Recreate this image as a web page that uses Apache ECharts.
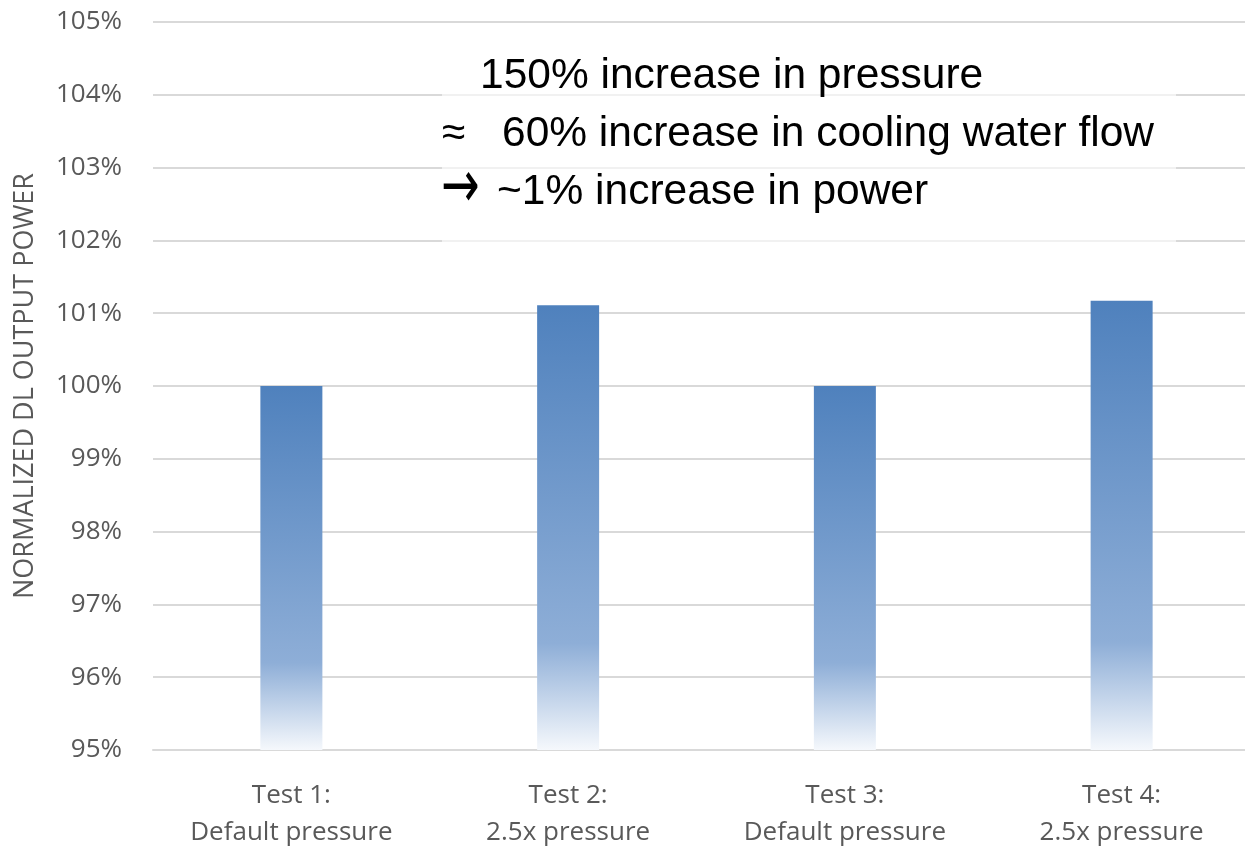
<!DOCTYPE html>
<html>
<head>
<meta charset="utf-8">
<script src="https://cdn.jsdelivr.net/npm/echarts@6/dist/echarts.min.js"></script>
<style>
  html, body { margin: 0; padding: 0; background: #ffffff; overflow: hidden; }
  #chart { width: 1245px; height: 848px; }
</style>
</head>
<body>
<div id="chart"></div>
<script>
// Test runs and their normalized diode-laser output power (percent)
const categories = ['Test 1:\nDefault pressure', 'Test 2:\n2.5x pressure', 'Test 3:\nDefault pressure', 'Test 4:\n2.5x pressure'];
const powerPct = [100, 101.11, 100, 101.17];
const yMin = 95, yMax = 105, yStep = 1;
const noteLines = [
  { mark: '', text: '150% increase in pressure' },
  { mark: '\u2248', text: '60% increase in cooling water flow' },
  { mark: '\u2192', text: '~1% increase in power' }
];

const axisFont = '"Open Sans", "Noto Sans", sans-serif';
const noteFont = '"Liberation Sans", Arial, sans-serif';

const chart = echarts.init(document.getElementById('chart'));

const barFill = new echarts.graphic.LinearGradient(0, 0, 0, 1, [
  { offset: 0, color: '#4f81bd' },
  { offset: 0.76, color: '#8eaed7' },
  { offset: 1, color: '#f5f8fc' }
]);

// Annotation block: translucent white panel plus three text lines
const noteGraphics = [
  {
    type: 'rect', left: 442, top: 40, z: 10,
    shape: { width: 734, height: 214 },
    style: { fill: 'rgba(255,255,255,0.62)' }
  },
  { type: 'text', left: 480, top: 55, z: 11,
    style: { text: noteLines[0].text, font: '42.5px ' + noteFont, fill: '#000000' } },
  { type: 'text', left: 442, top: 113, z: 11,
    style: { text: noteLines[1].mark, font: '42.5px ' + noteFont, fill: '#000000' } },
  { type: 'text', left: 502, top: 113, z: 11,
    style: { text: noteLines[1].text, font: '42.5px ' + noteFont, fill: '#000000' } },
  { type: 'text', x: 441, y: 190, z: 11, scaleY: 1.45,
    style: { text: noteLines[2].mark, font: '46px "DejaVu Sans", sans-serif', fill: '#000000',
             verticalAlign: 'middle', align: 'left' } },
  { type: 'text', left: 497, top: 171, z: 11,
    style: { text: noteLines[2].text, font: '42.5px ' + noteFont, fill: '#000000' } }
];

chart.setOption({
  animation: false,
  backgroundColor: '#ffffff',
  grid: {
    left: 153, top: 22, width: 1107, height: 728,
    containLabel: false, outerBoundsMode: 'none'
  },
  xAxis: {
    type: 'category',
    data: categories,
    boundaryGap: true,
    axisLine: { show: true, lineStyle: { color: '#d9d9d9', width: 2 } },
    axisTick: { show: false },
    axisLabel: {
      color: '#595959', fontFamily: axisFont, fontSize: 26,
      lineHeight: 37, margin: 27, interval: 0
    }
  },
  yAxis: {
    type: 'value',
    min: yMin, max: yMax, interval: yStep,
    name: 'NORMALIZED DL OUTPUT POWER',
    nameLocation: 'middle',
    nameGap: 114,
    nameTextStyle: { color: '#595959', fontFamily: axisFont, fontSize: 27 },
    axisLine: { show: false },
    axisTick: { show: false },
    axisLabel: {
      color: '#595959', fontFamily: axisFont, fontSize: 26, margin: 31,
      formatter: v => v + '%'
    },
    splitLine: { show: true, lineStyle: { color: '#d9d9d9', width: 2 } }
  },
  series: [{
    type: 'bar',
    data: powerPct,
    barWidth: 62,
    itemStyle: { color: barFill }
  }],
  graphic: noteGraphics
});
</script>
</body>
</html>
